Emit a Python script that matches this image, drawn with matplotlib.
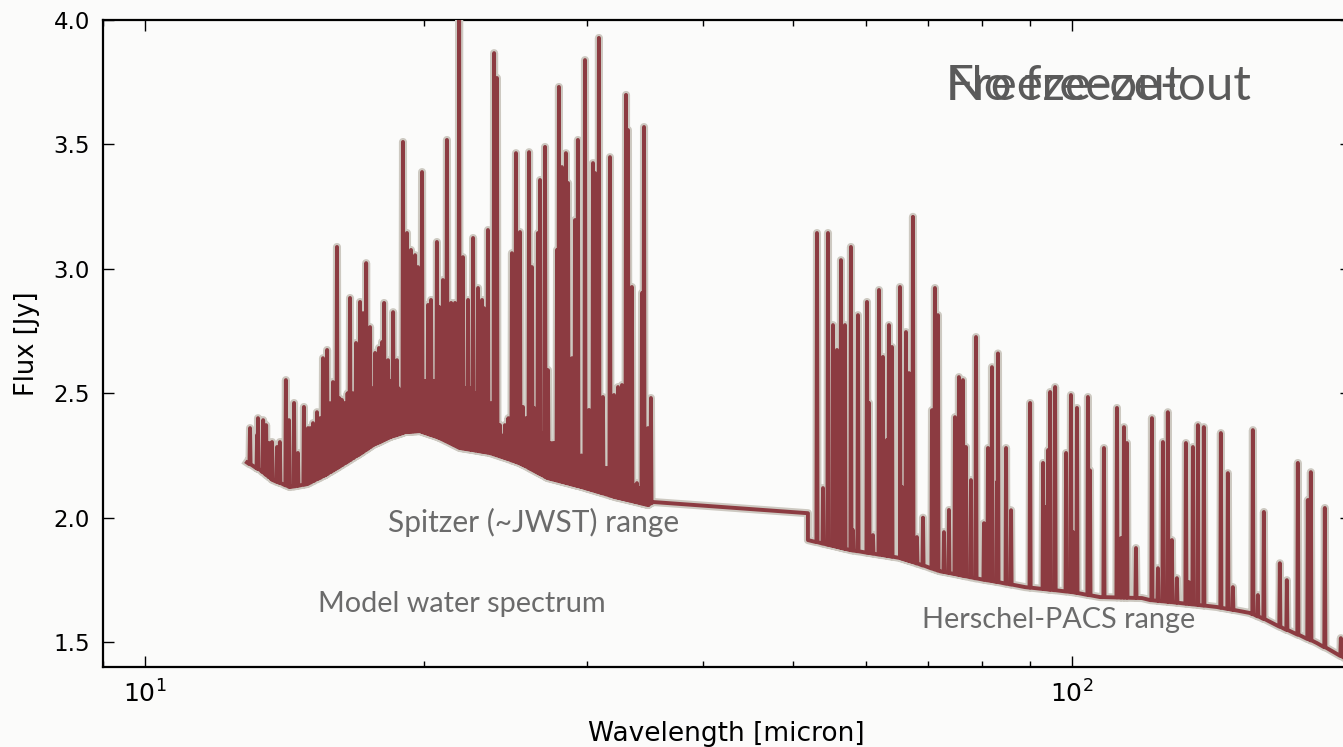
import numpy as np
import matplotlib
matplotlib.use("Agg")
import matplotlib.pyplot as plt
import matplotlib.patheffects as pe
from matplotlib.ticker import FixedLocator, FormatStrFormatter

# ---------------- data ----------------
# smooth continuum of the model (wavelength in micron, flux in Jy)
cont_wl = [12.88, 13.32, 13.74, 14.34, 14.95, 15.64, 16.23, 16.97, 17.62, 18.38,
           19.08, 19.80, 20.81, 21.87, 23.56, 25.38, 27.21, 29.61, 32.14, 34.88,
           35.32, 51.90, 51.90, 57.61, 65.23, 72.04, 78.59, 89.01, 100.0, 107.2,
           119.0, 121.4, 143.4, 155.6, 162.3, 168.9, 183.8, 196.0, 200.0]
cont_flux = [2.222, 2.191, 2.151, 2.123, 2.135, 2.171, 2.207, 2.252, 2.292, 2.324,
             2.344, 2.348, 2.320, 2.280, 2.260, 2.219, 2.159, 2.123, 2.083, 2.051,
             2.063, 2.018, 1.910, 1.870, 1.838, 1.785, 1.757, 1.721, 1.701, 1.681,
             1.677, 1.669, 1.641, 1.617, 1.588, 1.556, 1.496, 1.440, 1.420]

# strong water lines in the Spitzer range: position and peak flux
spitzer_line_wl = [12.98, 13.21, 13.24, 13.41, 13.51, 13.61, 13.71, 13.88, 13.98, 14.19,
                   14.30, 14.48, 14.62, 14.84, 14.99, 15.18, 15.33, 15.56, 15.72, 15.95,
                   16.11, 16.31, 16.43, 16.64, 16.89, 17.06, 17.19, 17.32, 17.49, 17.71,
                   17.88, 18.02, 18.11, 18.29, 18.52, 18.70, 18.84, 18.98, 19.17, 19.36,
                   19.56, 19.70, 19.90, 20.05, 20.20, 20.35, 20.65, 20.76, 20.96, 21.17,
                   21.39, 21.60, 21.82, 22.03, 22.31, 22.59, 22.87, 23.10, 23.21, 23.44,
                   23.80, 23.97, 24.15, 24.45, 24.88, 25.13, 25.26, 25.38, 25.57, 25.96,
                   26.15, 26.28, 26.54, 26.68, 27.01, 27.21, 27.55, 27.83, 27.96, 28.17,
                   28.45, 28.60, 28.88, 29.10, 29.31, 29.83, 30.13, 30.43, 30.58, 30.88,
                   31.19, 31.74, 32.06, 32.38, 32.70, 33.03, 33.19, 33.52, 33.94, 34.37,
                   34.54, 34.88, 35.14]
spitzer_line_peak = [2.360, 2.332, 2.400, 2.392, 2.372, 2.300, 2.304, 2.284, 2.304, 2.553,
                     2.392, 2.461, 2.260, 2.445, 2.360, 2.380, 2.424, 2.641, 2.674, 2.545,
                     3.088, 2.473, 2.461, 2.883, 2.702, 2.867, 2.822, 3.023, 2.766, 2.662,
                     2.682, 2.706, 2.863, 2.633, 2.826, 2.633, 2.404, 3.510, 3.144, 3.076,
                     3.055, 3.007, 3.389, 2.485, 2.855, 2.875, 3.108, 2.847, 2.955, 3.518,
                     2.863, 2.863, 4.050, 3.047, 2.875, 3.124, 2.923, 2.875, 2.842, 3.156,
                     3.867, 3.767, 2.372, 2.372, 3.063, 3.465, 3.128, 3.148, 2.445, 3.469,
                     3.007, 2.441, 3.144, 3.357, 3.490, 2.593, 2.300, 3.076, 3.731, 3.409,
                     3.465, 3.345, 2.641, 3.196, 3.518, 3.839, 2.433, 3.425, 3.385, 3.928,
                     2.485, 3.449, 2.493, 2.525, 2.533, 3.699, 3.558, 2.927, 2.139, 2.903,
                     3.570, 2.360, 2.481]

# weak, blended lines filling the Spitzer line forest
blend_line_wl = [15.08, 15.45, 15.64, 15.84, 16.03, 16.21, 16.54, 16.76, 16.97, 17.13,
                 17.40, 17.60, 17.80, 17.95, 18.20, 18.40, 18.61, 18.77, 18.91, 19.08,
                 19.27, 19.46, 19.63, 19.80, 19.98, 20.12, 20.28, 20.50, 20.86, 21.07,
                 21.28, 21.50, 21.71, 21.93, 22.17, 22.45, 22.73, 22.99, 23.32, 23.62,
                 24.30, 24.66, 25.00, 25.47, 25.76, 26.05, 26.41, 26.85, 27.11, 27.38,
                 27.69, 28.06, 28.31, 28.52, 28.74, 28.99, 29.20, 29.57, 29.98, 30.28,
                 30.73, 31.03, 31.46, 31.90, 32.22, 32.54, 32.86, 33.35, 33.73, 34.15,
                 34.70]
blend_line_peak = [2.36, 2.40, 2.44, 2.46, 2.48, 2.48, 2.50, 2.50, 2.52, 2.52,
                   2.52, 2.52, 2.54, 2.54, 2.54, 2.55, 2.55, 2.52, 2.50, 2.55,
                   2.56, 2.56, 2.56, 2.56, 2.55, 2.55, 2.56, 2.55, 2.55, 2.55,
                   2.54, 2.54, 2.54, 2.52, 2.52, 2.52, 2.50, 2.50, 2.48, 2.46,
                   2.33, 2.40, 2.45, 2.42, 2.40, 2.38, 2.36, 2.34, 2.32, 2.30,
                   2.30, 3.35, 3.38, 3.30, 2.28, 2.28, 2.27, 2.25, 2.24, 2.24,
                   2.22, 2.22, 2.20, 2.19, 2.18, 2.17, 2.16, 2.14, 2.13, 2.12,
                   2.10]

# water lines in the Herschel-PACS range
pacs_line_wl = [53.08, 53.88, 54.55, 55.23, 55.78, 56.34, 56.90, 57.75, 58.04, 58.77,
                60.10, 60.40, 61.00, 61.92, 62.53, 63.16, 63.47, 63.95, 65.23, 65.56,
                66.21, 66.71, 67.37, 68.04, 69.07, 70.63, 71.15, 71.69, 72.76, 73.67,
                74.78, 75.52, 76.28, 76.85, 77.81, 78.79, 80.37, 81.17, 81.98, 83.00,
                83.21, 84.90, 85.96, 90.12, 93.08, 93.78, 94.25, 94.72, 95.90, 98.55,
                99.75, 100.25, 101.25, 104.05, 104.57, 108.27, 111.83, 112.95, 113.79, 114.64,
                117.23, 121.98, 123.81, 125.36, 126.90, 128.18, 129.78, 132.72, 133.71, 135.05,
                136.74, 138.77, 144.76, 147.30, 149.14, 156.74, 158.70, 161.08, 167.60, 170.54,
                175.27, 179.67, 181.02, 187.42, 195.02]
pacs_line_peak = [3.144, 2.119, 3.144, 2.774, 2.674, 3.035, 2.774, 3.088, 1.950, 2.814,
                  2.867, 2.461, 1.930, 2.915, 2.646, 2.312, 2.774, 2.686, 2.927, 2.123,
                  2.746, 2.581, 3.209, 1.922, 2.000, 2.432, 2.923, 2.814, 1.942, 2.031,
                  2.404, 2.565, 2.553, 2.284, 2.151, 2.726, 1.978, 2.280, 2.605, 2.143,
                  2.660, 2.280, 2.030, 2.461, 2.220, 2.043, 2.272, 2.505, 2.525, 2.260,
                  2.493, 1.942, 2.441, 2.485, 2.190, 2.280, 2.441, 1.918, 2.364, 2.300,
                  1.878, 2.400, 1.797, 2.304, 2.424, 1.910, 1.757, 2.300, 1.741, 2.284,
                  2.372, 2.364, 2.340, 2.179, 1.721, 2.352, 1.689, 2.023, 1.817, 1.749,
                  2.220, 2.071, 2.183, 2.039, 1.516]

yticks = [1.5, 2.0, 2.5, 3.0, 3.5, 4.0]

# ---------------- spectrum path ----------------
line_wl = np.array(spitzer_line_wl + blend_line_wl + pacs_line_wl)
line_peak = np.array(spitzer_line_peak + blend_line_peak + pacs_line_peak)
base = np.interp(line_wl, cont_wl, cont_flux)
half = 10 ** 0.0006  # half width of each unresolved line (multiplicative)

wl = list(cont_wl)
fl = list(cont_flux)
for w, p, b in zip(line_wl, line_peak, base):
    wl += [w / half, w, w * half]
    fl += [b, p, b]
order = np.argsort(np.array(wl), kind="stable")
spec_wl = np.array(wl)[order]
spec_fl = np.array(fl)[order]

# ---------------- figure ----------------
bg = "#fbfbfa"
fig = plt.figure(figsize=(13.43, 7.47), dpi=100, facecolor=bg)
ax = fig.add_axes([102.6 / 1343, 80 / 747, (1351 - 102.6) / 1343, 647 / 747])
ax.set_facecolor(bg)

ax.plot(spec_wl, spec_fl, color="#8c3b41", lw=2.8, solid_joinstyle="round",
        path_effects=[pe.Stroke(linewidth=5.8, foreground="#cdc9c1"), pe.Normal()],
        zorder=3)

ax.set_xscale("log")
ax.set_xlim(9, 200)
ax.set_ylim(1.4, 4.0)
ax.yaxis.set_major_locator(FixedLocator(yticks))
ax.yaxis.set_major_formatter(FormatStrFormatter("%.1f"))

ax.tick_params(which="both", direction="in", top=True, right=True, width=1.0,
               colors="black")
ax.tick_params(which="major", length=8)
ax.tick_params(which="minor", length=4)
ax.tick_params(axis="y", labelsize=16.5, pad=9)
ax.tick_params(axis="x", labelsize=18, pad=10)
for s in ax.spines.values():
    s.set_linewidth(1.6)

ax.set_xlabel("Wavelength [micron]", fontsize=19, labelpad=9)
ax.set_ylabel("Flux [Jy]", fontsize=18.5, labelpad=10)


# slide annotations, placed in figure pixels from the top-left corner
def place(px, py, s, size, color):
    ax.text(px / 1343, 1 - py / 747, s, fontsize=size, color=color,
            family=["Lato", "DejaVu Sans"], transform=fig.transFigure, zorder=5)


place(388, 532, "Spitzer (~JWST) range", 21.5, "#6b6b6b")
place(318, 612, "Model water spectrum", 20.8, "#6b6b6b")
place(922, 628, "Herschel-PACS range", 20.8, "#6b6b6b")
place(946, 100, "No freeze-out", 35.5, "#5a5a5a")
place(946, 100, "Freeze-out", 35.5, "#5a5a5a")

fig.savefig("out.png", dpi=100, facecolor=bg)
